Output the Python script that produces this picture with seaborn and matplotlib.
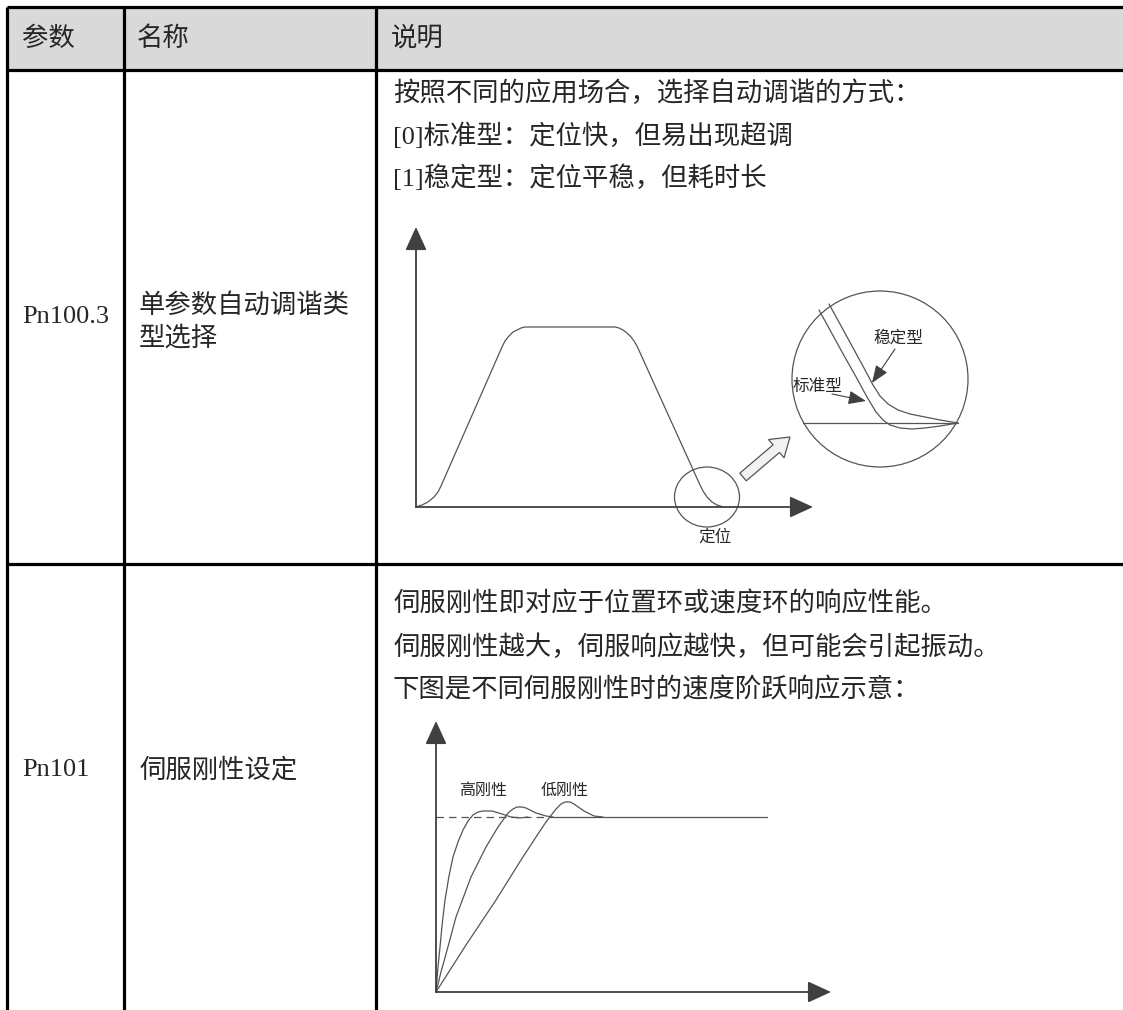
"""Parameter table: Pn100.3 auto-tuning type and Pn101 servo stiffness, with sketches."""

import matplotlib.pyplot as plt
import pandas as pd
import seaborn as sns
from matplotlib.patches import Circle, Ellipse, FancyArrow

# ------------------------------------------------------------------
# Table content
# ------------------------------------------------------------------
HEADERS = ["参数", "名称", "说明"]
PARAMS = ["Pn100.3", "Pn101"]
NAMES = [["单参数自动调谐类", "型选择"], ["伺服刚性设定"]]
DESCRIPTIONS = [
    ["按照不同的应用场合，选择自动调谐的方式：", "[0]标准型：定位快，但易出现超调", "[1]稳定型：定位平稳，但耗时长"],
    ["伺服刚性即对应于位置环或速度环的响应性能。", "伺服刚性越大，伺服响应越快，但可能会引起振动。", "下图是不同伺服刚性时的速度阶跃响应示意："],
]

# ------------------------------------------------------------------
# Sketch 1: positioning speed profile (time, speed)
# ------------------------------------------------------------------
PROFILE_T = [0, 6, 12, 18, 22, 25, 86, 89, 93, 97, 101, 105, 109, 199, 203, 207, 211, 215, 218, 221,
             284, 287, 291, 296, 301, 307]
PROFILE_V = [0, 2, 5, 10, 15, 21, 160, 166, 171, 175, 177, 179, 180, 180, 179, 177, 174, 170, 166, 161,
             22, 16, 10, 5, 2, 0]

# zoomed-in settling, standard vs stable
STANDARD_T = [403, 414, 426, 439, 451, 460, 467, 474, 484, 496, 509, 524, 542]
STANDARD_V = [197, 177, 155, 132, 110, 95, 87, 82, 79, 78, 79, 81, 84]
STABLE_T = [413, 424, 436, 448, 457, 464, 472, 482, 494, 509, 524, 542]
STABLE_V = [203, 183, 161, 139, 122, 111, 103, 97, 93, 90, 87, 84]
ZOOM_LEVEL = 84
ZOOM_LABELS = ["稳定型", "标准型"]
POSITION_LABEL = "定位"

# ------------------------------------------------------------------
# Sketch 2: speed step response for different stiffness
# ------------------------------------------------------------------
HIGH_T = [0, 2, 4, 6, 9, 13, 17, 22, 27, 32, 37, 42, 47, 56, 66, 75, 84, 92]
HIGH_V = [0, 25, 45, 66, 92, 116, 135, 150, 162, 171, 177, 180, 181, 181, 178, 175, 174, 175]
MID_T = [0, 5, 10, 20, 35, 50, 62, 72, 77, 81, 86, 90, 100, 110, 117]
MID_V = [0, 20, 38, 75, 115, 145, 165, 179, 183, 185, 185, 184, 179, 176, 175]
LOW_T = [0, 30, 60, 85, 100, 110, 120, 125, 129, 134, 138, 148, 158, 167]
LOW_V = [0, 47, 92, 132, 155, 170, 183, 188, 190, 190, 188, 181, 176, 175]
STEP_LEVEL = 175
STIFFNESS_LABELS = ["高刚性", "低刚性"]

W, H = 1123, 1010
LINE_GRAY = "#555555"
AXIS_GRAY = "#404040"
CJK = ["Noto Sans CJK SC", "DejaVu Sans"]
SERIF_MIX = ["Liberation Serif", "Noto Sans CJK SC"]


def px_axes(fig, x0, y0, x1, y1, ox, oy):
    """Transparent axes over a pixel box, with local origin at pixel (ox, oy)."""
    ax = fig.add_axes([x0 / W, (H - y1) / H, (x1 - x0) / W, (y1 - y0) / H], zorder=3)
    ax.set_xlim(x0 - ox, x1 - ox)
    ax.set_ylim(oy - y1, oy - y0)
    ax.patch.set_alpha(0)
    ax.axis("off")
    return ax


def axis_arrow(ax, x_tip, y_tip):
    ax.annotate(
        "", xy=(x_tip, y_tip), xytext=(0, 0),
        arrowprops=dict(arrowstyle="-|>,head_length=1.2,head_width=0.55", lw=1.3,
                        color=AXIS_GRAY, shrinkA=0, shrinkB=0),
    )


def curve(ax, t, v, **kw):
    df = pd.DataFrame({"t": t, "v": v})
    sns.lineplot(data=df, x="t", y="v", sort=False, estimator=None, color=LINE_GRAY,
                 lw=kw.pop("lw", 0.9), ax=ax, **kw)


def draw_table(ax):
    ax.fill_between([7, W], 7, 70, color="#d9d9d9", lw=0)
    lw = 2.3
    for y in [7, 70, 564]:
        ax.plot([7, W], [y, y], color="black", lw=lw, solid_capstyle="butt")
    for x in [7, 124, 376]:
        ax.plot([x, x], [7, H], color="black", lw=lw, solid_capstyle="butt")

    for x, label in zip([22, 137, 391], HEADERS):
        ax.text(x, 38, label, fontsize=19, family=CJK, va="center", ha="left")

    # row 1
    ax.text(22, 317, PARAMS[0], fontsize=19, family=SERIF_MIX, va="center")
    for y, line in zip([305, 338], NAMES[0]):
        ax.text(139, y, line, fontsize=19, family=CJK, va="center")
    for y, line in zip([93, 136, 178], DESCRIPTIONS[0]):
        ax.text(393, y, line, fontsize=19, family=SERIF_MIX, va="center")

    # row 2
    ax.text(22, 770, PARAMS[1], fontsize=19, family=SERIF_MIX, va="center")
    ax.text(139, 770, NAMES[1][0], fontsize=19, family=CJK, va="center")
    for y, line in zip([604, 647, 690], DESCRIPTIONS[1]):
        ax.text(393, y, line, fontsize=19, family=SERIF_MIX, va="center")


def draw_profile(fig):
    ax = px_axes(fig, 376, 70, W, 564, 416, 507)
    axis_arrow(ax, 0, 280)
    axis_arrow(ax, 397, 0)
    curve(ax, PROFILE_T, PROFILE_V)
    ax.add_patch(Ellipse((291, 10), 65, 60, fill=False, ec=LINE_GRAY, lw=0.9))
    ax.text(299, -30, POSITION_LABEL, fontsize=12, family=CJK, ha="center", va="center")
    ax.add_patch(FancyArrow(327, 30, 47, 40, width=10, head_width=24, head_length=18,
                            length_includes_head=True, fc="#f2f2f2", ec=LINE_GRAY, lw=0.9))

    # magnified view
    ax.add_patch(Circle((464, 128), 88, fill=False, ec=LINE_GRAY, lw=0.9))
    ax.plot([387, 542], [ZOOM_LEVEL, ZOOM_LEVEL], color=LINE_GRAY, lw=0.9)
    curve(ax, STANDARD_T, STANDARD_V)
    curve(ax, STABLE_T, STABLE_V)
    arrow_kw = dict(arrowstyle="-|>,head_length=0.9,head_width=0.35", lw=0.8, color=AXIS_GRAY,
                    shrinkA=0, shrinkB=0)
    ax.text(482, 169, ZOOM_LABELS[0], fontsize=12, family=CJK, ha="center", va="center")
    ax.annotate("", xy=(456, 124), xytext=(479, 158), arrowprops=arrow_kw)
    ax.text(402, 121, ZOOM_LABELS[1], fontsize=12, family=CJK, ha="center", va="center")
    ax.annotate("", xy=(450, 106), xytext=(416, 113), arrowprops=arrow_kw)


def draw_step(fig):
    ax = px_axes(fig, 376, 564, W, H, 436, 992)
    axis_arrow(ax, 0, 271)
    axis_arrow(ax, 395, 0)
    ax.plot([0, 117], [STEP_LEVEL, STEP_LEVEL], color=LINE_GRAY, lw=0.9, linestyle=(0, (6, 4)))
    ax.plot([117, 331], [STEP_LEVEL, STEP_LEVEL], color=LINE_GRAY, lw=0.9)
    curve(ax, HIGH_T, HIGH_V)
    curve(ax, MID_T, MID_V)
    curve(ax, LOW_T, LOW_V)
    for x, label in zip([47, 129], STIFFNESS_LABELS):
        ax.text(x, 202, label, fontsize=11.5, family=CJK, ha="center", va="center")


def main():
    sns.set_theme(style="white")
    plt.rcParams["font.family"] = CJK
    fig = plt.figure(figsize=(W / 100, H / 100), dpi=100)
    ax = fig.add_axes([0, 0, 1, 1])
    ax.set_xlim(0, W)
    ax.set_ylim(H, 0)
    ax.axis("off")

    draw_table(ax)
    draw_profile(fig)
    draw_step(fig)

    fig.savefig("out.png", dpi=100)
    plt.close(fig)


if __name__ == "__main__":
    main()
